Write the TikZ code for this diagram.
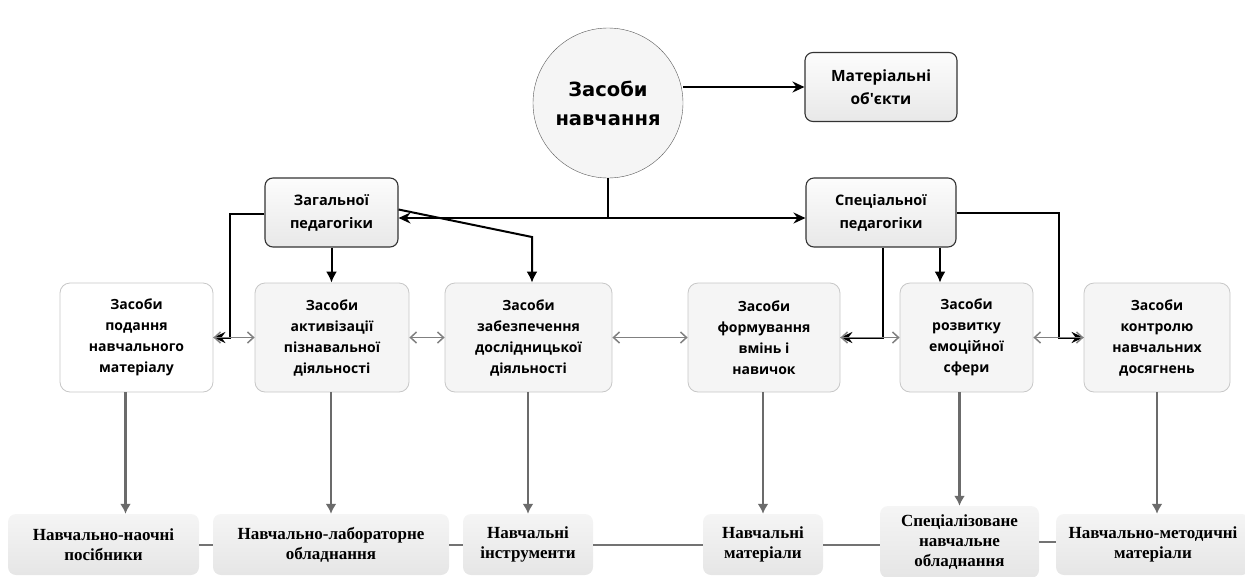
\documentclass[tikz,border=0pt]{standalone}
\usepackage{fontspec}
\setmainfont{Open Sans}
\newfontfamily\rootfont{DejaVu Sans}
\newfontfamily\listfont{Liberation Serif}
\usetikzlibrary{arrows.meta}

\begin{document}
\begin{tikzpicture}[x=1pt, y=-1pt, every node/.style={align=center, inner sep=2pt},
    rootcircle/.style={draw=black!65, circle, fill=black!4, minimum size=150pt, font=\rootfont\bfseries\fontsize{19.5}{29}\selectfont},
    topbox/.style={draw=black!80, line width=1.1pt, rounded corners=8pt, top color=black!1, bottom color=black!9, minimum height=69pt, font=\bfseries\fontsize{14.5}{23}\selectfont},
    midbox/.style={draw=black!22, line width=0.8pt, rounded corners=10pt, fill=black!4, minimum height=109pt, font=\bfseries\fontsize{14}{21}\selectfont},
    lowbox/.style={rounded corners=8pt, top color=black!4, bottom color=black!10, minimum height=61pt, font=\listfont\bfseries\fontsize{17}{20}\selectfont},
    blackarrow/.style={draw=black, line width=2pt, -{Latex[length=11pt, width=11pt]}},
    sidearrow/.style={draw=black, line width=2pt, -{Stealth[length=12pt, width=11pt, inset=4pt]}},
    grayarrow/.style={draw=black!58, line width=2.2pt, -{Latex[length=10pt, width=11pt]}},
    graylink/.style={draw=black!50, line width=1.5pt, {Straight Barb[length=6pt, width=11pt]}-{Straight Barb[length=6pt, width=11pt]}},
    grayline/.style={draw=black!55, line width=2pt}]
    \useasboundingbox (0,0) rectangle (1245,576);

    \node (root) [rootcircle] at (608,103) {Засоби\\навчання};
    \node (matl) [topbox, minimum width=152pt, font=\bfseries\fontsize{15.5}{23}\selectfont] at (881,87) {Матеріальні\\об\textquotesingle єкти};
    \node (gen) [topbox, minimum width=133pt] at (331.5,212.5) {Загальної\\педагогіки};
    \node (spec) [topbox, minimum width=150pt] at (881,212.5) {Спеціальної\\педагогіки};

    \node (podannya) [midbox, fill=white, minimum width=153pt] at (136.5,337.5) {Засоби\\подання\\навчального\\матеріалу};
    \node (activ) [midbox, minimum width=154pt] at (332,337.5) {Засоби\\активізації\\пізнавальної\\діяльності};
    \node (dosl) [midbox, minimum width=167pt] at (528.5,337.5) {Засоби\\забезпечення\\дослідницької\\діяльності};
    \node (formuv) [midbox, minimum width=152pt] at (764,337.5) {Засоби\\формування\\вмінь і\\навичок};
    \node (rozv) [midbox, minimum width=133pt] at (966.5,337.5) {Засоби\\розвитку\\емоційної\\сфери};
    \node (kontr) [midbox, minimum width=146pt] at (1157,337.5) {Засоби\\контролю\\навчальних\\досягнень};

    \node (nao) [lowbox, minimum width=191pt] at (103.5,544.5) {Навчально-наочні\\посібники};
    \node (lab) [lowbox, minimum width=236pt] at (331,544.5) {Навчально-лабораторне\\обладнання};
    \node (instr) [lowbox, minimum width=130pt] at (528,544.5) {Навчальні\\інструменти};
    \node (mat) [lowbox, minimum width=120pt] at (763,544.5) {Навчальні\\матеріали};
    \node (spobl) [lowbox, minimum width=159pt, minimum height=72pt] at (959.5,542) {Спеціалізоване\\навчальне\\обладнання};
    \node (metod) [lowbox, minimum width=194pt] at (1153,544.5) {Навчально-методичні\\матеріали};

    \coordinate (fork) at (608,218);
    \coordinate (genbend) at (532,237);

    \draw[sidearrow] (root.east |- matl.west) -- (matl.west);
    \draw[line width=2pt] (root.south) -- (fork);
    \draw[sidearrow] (fork) -- (fork -| gen.east);
    \draw[sidearrow] (fork) -- (fork -| spec.west);
    \draw[blackarrow] ([yshift=3pt]gen.east) -- (genbend) -- (genbend |- dosl.north);
    \draw[blackarrow] (gen.south) -- (gen.south |- activ.north);
    \draw[sidearrow] ([yshift=-1pt]gen.west) -- ++(-34,0) |- (podannya.east);
    \draw[sidearrow] ([xshift=2pt]spec.south) |- (formuv.east);
    \draw[blackarrow] ([xshift=59pt]spec.south) -- ([xshift=59pt]spec.south |- rozv.north);
    \draw[sidearrow] (spec.east) -- ++(102,0) |- (kontr.west);

    \foreach \a/\b in {podannya/activ, activ/dosl, dosl/formuv, formuv/rozv, rozv/kontr}
        \draw[graylink] (\a.east) -- (\b.west);

    \draw[grayarrow] ([xshift=-11pt]podannya.south) -- ([xshift=-11pt]podannya.south |- nao.north);
    \foreach \a/\b in {activ/lab, dosl/instr, formuv/mat, rozv/spobl}
        \draw[grayarrow] (\a.south -| \b.north) -- (\b.north);
    \draw[grayarrow] (kontr.south) -- (kontr.south |- metod.north);

    \foreach \a/\b in {nao/lab, lab/instr, instr/mat, mat/spobl, spobl/metod}
        \draw[grayline] (\a.east) -- (\a.east -| \b.west);
\end{tikzpicture}
\end{document}
